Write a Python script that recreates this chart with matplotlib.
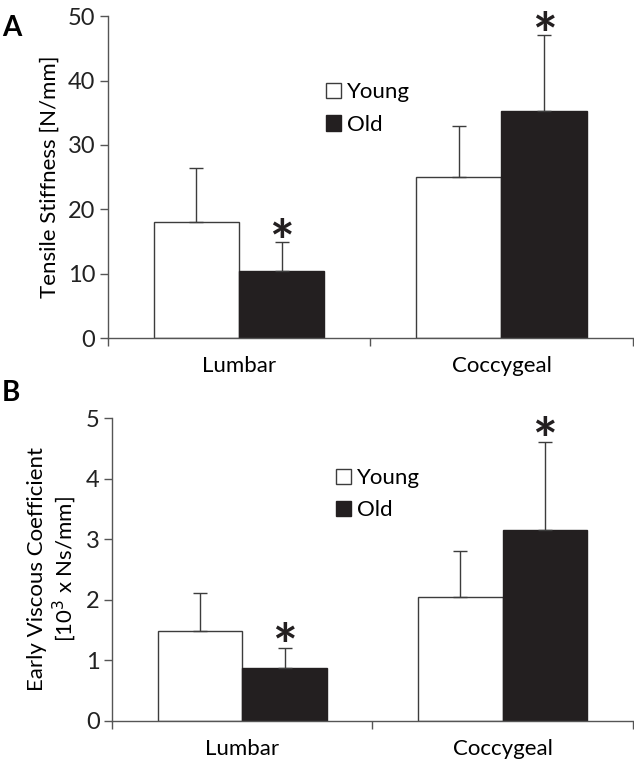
import numpy as np
import matplotlib.pyplot as plt

plt.rcParams['font.family'] = ['Lato', 'DejaVu Sans']

# data
regions = ['Lumbar', 'Coccygeal']
groups = ['Young', 'Old']
stiff_young = [18.0, 25.1]
stiff_old = [10.5, 35.3]
stiff_young_sd = [8.4, 7.9]
stiff_old_sd = [4.4, 11.7]
visc_young = [1.48, 2.05]
visc_old = [0.88, 3.15]
visc_young_sd = [0.64, 0.75]
visc_old_sd = [0.32, 1.45]
sig_old = [True, True]  # asterisks over the old bars

edge = '#3c3c3c'
dark = '#231f20'
w = 0.325


def panel(ax, young, old, ysd, osd, ymax, step, star_off, leg_xy):
    x = np.arange(len(regions))
    by = ax.bar(x - w / 2, young, w, color='white', edgecolor=edge, lw=1.0, label=groups[0])
    bo = ax.bar(x + w / 2, old, w, color=dark, edgecolor=dark, lw=1.0, label=groups[1])
    ax.errorbar(x - w / 2, young, yerr=[np.zeros(2), ysd], fmt='none', ecolor=edge,
                elinewidth=1.0, capsize=5, capthick=1.0)
    ax.errorbar(x + w / 2, old, yerr=[np.zeros(2), osd], fmt='none', ecolor=edge,
                elinewidth=1.0, capsize=5, capthick=1.0)
    for i in range(len(regions)):
        if sig_old[i]:
            ax.text(x[i] + w / 2, old[i] + osd[i] - star_off, '*', ha='center', va='bottom',
                    fontsize=42, fontweight='bold', color=dark)
    ax.set_xlim(-0.5, 1.5)
    ax.set_ylim(0, ymax)
    ax.set_yticks(np.arange(0, ymax + step / 2, step))
    ax.set_xticks(x)
    ax.set_xticklabels(regions, fontsize=16)
    ax.set_xticks([-0.5, 0.5, 1.5], minor=True)
    ax.tick_params(axis='x', which='major', length=0, pad=13)
    ax.tick_params(axis='x', which='minor', length=6, color='#555555', width=1)
    ax.tick_params(axis='y', length=6, color='#555555', width=1, labelsize=17, pad=3,
                   labelcolor='#222222')
    for s in ['top', 'right']:
        ax.spines[s].set_visible(False)
    for s in ['left', 'bottom']:
        ax.spines[s].set_color('#555555')
        ax.spines[s].set_linewidth(1)
    ax.legend(handles=[by, bo], loc='upper left', bbox_to_anchor=leg_xy, frameon=False,
              fontsize=16, handlelength=0.7, handleheight=0.7, handletextpad=0.25,
              labelspacing=0.55, borderpad=0)


fig = plt.figure(figsize=(6.34, 7.67), dpi=100)
axA = fig.add_axes([0.170, 0.559, 0.828, 0.420])
axB = fig.add_axes([0.177, 0.060, 0.821, 0.395])

panel(axA, stiff_young, stiff_old, stiff_young_sd, stiff_old_sd, 50, 10, 4.6, (0.394, 0.829))
panel(axB, visc_young, visc_old, visc_young_sd, visc_old_sd, 5, 1, 0.46, (0.408, 0.871))

axA.set_ylabel('Tensile Stiffness [N/mm]', fontsize=16, labelpad=6)
axB.set_ylabel('Early Viscous Coefficient\n[10$^3$ x Ns/mm]', fontsize=16, labelpad=6,
               linespacing=1.1)

fig.text(0.003, 0.980, 'A', fontsize=20, fontweight='bold', va='top')
fig.text(0.003, 0.505, 'B', fontsize=20, fontweight='bold', va='top')

fig.savefig('out.png', dpi=100)
